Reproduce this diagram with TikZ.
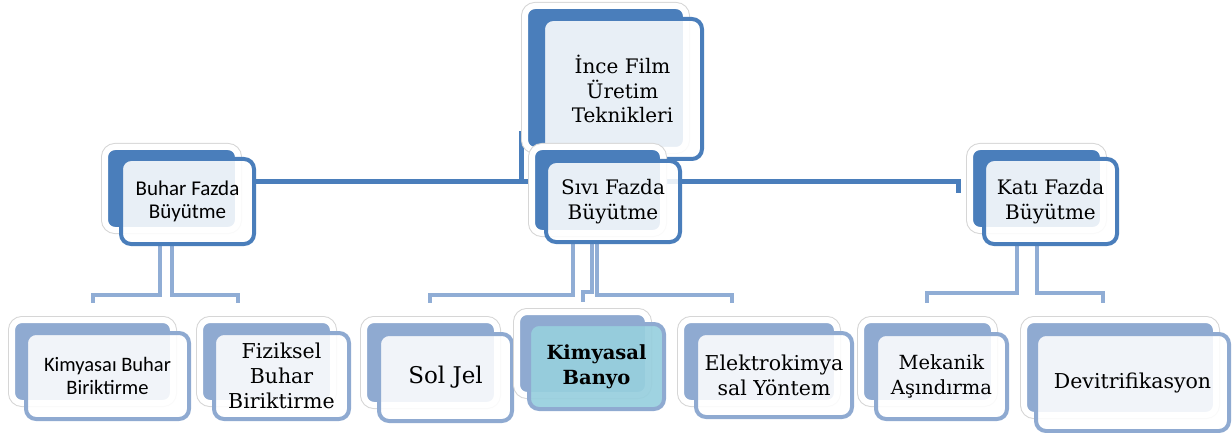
\documentclass[tikz,border=0pt]{standalone}
\usepackage{fontspec}
\setmainfont{DejaVu Serif}
\newfontfamily\carlito{Carlito}
\usetikzlibrary{calc}
\pgfdeclarelayer{bg}
\pgfsetlayers{bg,main}
\definecolor{dblue}{HTML}{4A7EBB}
\definecolor{lblue}{HTML}{8FAAD1}
\definecolor{lconn}{HTML}{90ADD5}
\definecolor{bteal}{HTML}{97CFDE}
\definecolor{outl}{HTML}{D6D6D6}
\tikzset{
  backbox/.style={rounded corners=10pt, inner sep=0pt, preaction={draw=outl, line width=8pt}, draw=white, line width=6pt},
  frontbox/.style={rounded corners=10pt, inner sep=0pt, align=center, line width=4pt, fill=white, fill opacity=0.88, text opacity=1},
  tx/.style={font=\fontsize{20}{24.5}\selectfont},
  conn1/.style={draw=dblue, line width=5pt},
  conn2/.style={preaction={draw=white, line width=6pt}, draw=lconn, line width=4.2pt},
}
\begin{document}
\begin{tikzpicture}[x=1pt,y=-1pt]
\useasboundingbox (0,0) rectangle (1232,433);
% level 0
\node[backbox, fill=dblue, minimum width=161pt, minimum height=144pt] (topB) at (605.5,78) {};
\node[frontbox, draw=dblue, minimum width=159pt, minimum height=140pt, tx] (topF) at (622.5,89) {İnce Film\\Üretim\\Teknikleri};
% level 1
\node[backbox, fill=dblue, minimum width=133pt, minimum height=83pt] (bufB) at (171.5,188.5) {};
\node[frontbox, draw=dblue, minimum width=133pt, minimum height=85pt, font=\carlito\fontsize{21}{23.5}\selectfont] (bufF) at (187.5,201.5) {Buhar Fazda\\Büyütme};
\node[backbox, fill=dblue, minimum width=131pt, minimum height=86pt] (sivB) at (597.5,190) {};
\node[frontbox, draw=dblue, minimum width=134pt, minimum height=81pt, tx] (sivF) at (613,201.5) {Sıvı Fazda\\Büyütme};
\node[backbox, fill=dblue, minimum width=133pt, minimum height=83pt] (katB) at (1036.5,188.5) {};
\node[frontbox, draw=dblue, minimum width=133pt, minimum height=85pt, tx] (katF) at (1050.5,201.5) {Katı Fazda\\Büyütme};
% level 2
\node[backbox, fill=lblue, minimum width=161pt, minimum height=83pt] (kbB) at (92.5,361.5) {};
\node[frontbox, draw=lblue, minimum width=163pt, minimum height=86pt, font=\carlito\fontsize{20.5}{23}\selectfont] (kbF) at (107.5,376) {Kimyasaı Buhar\\Biriktirme};
\node[backbox, fill=lblue, minimum width=133pt, minimum height=83pt] (fizB) at (266.5,361.5) {};
\node[frontbox, draw=lblue, minimum width=135pt, minimum height=86pt, font=\fontsize{20.5}{25}\selectfont] (fizF) at (281.5,376) {Fiziksel\\Buhar\\Biriktirme};
\node[backbox, fill=lblue, minimum width=133pt, minimum height=85pt] (solB) at (430.5,362.5) {};
\node[frontbox, draw=lblue, minimum width=133pt, minimum height=87pt, font=\fontsize{23}{27}\selectfont] (solF) at (445.5,377.5) {Sol Jel};
\node[backbox, fill=lblue, minimum width=131pt, minimum height=83pt] (banB) at (582.5,353.5) {};
\node[frontbox, draw=lblue, fill=bteal, fill opacity=0.92, minimum width=135pt, minimum height=85pt, font=\bfseries\fontsize{19.5}{25}\selectfont] (banF) at (596.5,366.5) {Kimyasal\\Banyo};
\node[backbox, fill=lblue, minimum width=156pt, minimum height=83pt] (eleB) at (759,361.5) {};
\node[frontbox, draw=lblue, minimum width=156pt, minimum height=84pt, font=\fontsize{20.5}{25}\selectfont] (eleF) at (774,375) {Elektrokimya\\sal Yöntem};
\node[backbox, fill=lblue, minimum width=133pt, minimum height=83pt] (mekB) at (927.5,361.5) {};
\node[frontbox, draw=lblue, minimum width=131pt, minimum height=85pt, font=\fontsize{19.5}{25}\selectfont] (mekF) at (941.5,376.5) {Mekanik\\Aşındırma};
\node[backbox, fill=lblue, minimum width=192pt, minimum height=95pt] (devB) at (1120,367.5) {};
\node[frontbox, draw=lblue, minimum width=193pt, minimum height=97pt, font=\fontsize{20.5}{25}\selectfont] (devF) at (1132.5,382.5) {Devitrifikasyon};
% stub end points
\coordinate (k0) at (958,193);
\coordinate (b1) at (93,303);
\coordinate (b2) at (238,303);
\coordinate (v1) at (430,303);
\coordinate (v2) at (583,302);
\coordinate (v3) at (732,303);
\coordinate (t1) at (927,303);
\coordinate (t2) at (1103,303);
\begin{pgfonlayer}{bg}
\draw[conn1] ([xshift=-0.5pt,yshift=22pt]topB.south west) |- ([yshift=19.5pt]bufF.east);
\draw[conn1] ([xshift=-0.5pt,yshift=22pt]topB.south west) |- ([yshift=11pt]k0) -- (k0);
\draw[conn2] ([xshift=-27.5pt]bufF.south) |- ([yshift=8pt]b1) -- (b1);
\draw[conn2] ([xshift=-15.5pt]bufF.south) |- ([yshift=8pt]b2) -- (b2);
\draw[conn2] ([xshift=-40pt]sivF.south) |- ([yshift=8pt]v1) -- (v1);
\draw[conn2] ([xshift=-21pt]sivF.south) |- ([yshift=10pt]v2) -- (v2);
\draw[conn2] ([xshift=-16pt]sivF.south) |- ([yshift=8pt]v3) -- (v3);
\draw[conn2] ([xshift=-33.5pt]katF.south) |- ([yshift=10pt]t1) -- (t1);
\draw[conn2] ([xshift=-13.5pt]katF.south) |- ([yshift=10pt]t2) -- (t2);
\end{pgfonlayer}
\end{tikzpicture}
\end{document}
